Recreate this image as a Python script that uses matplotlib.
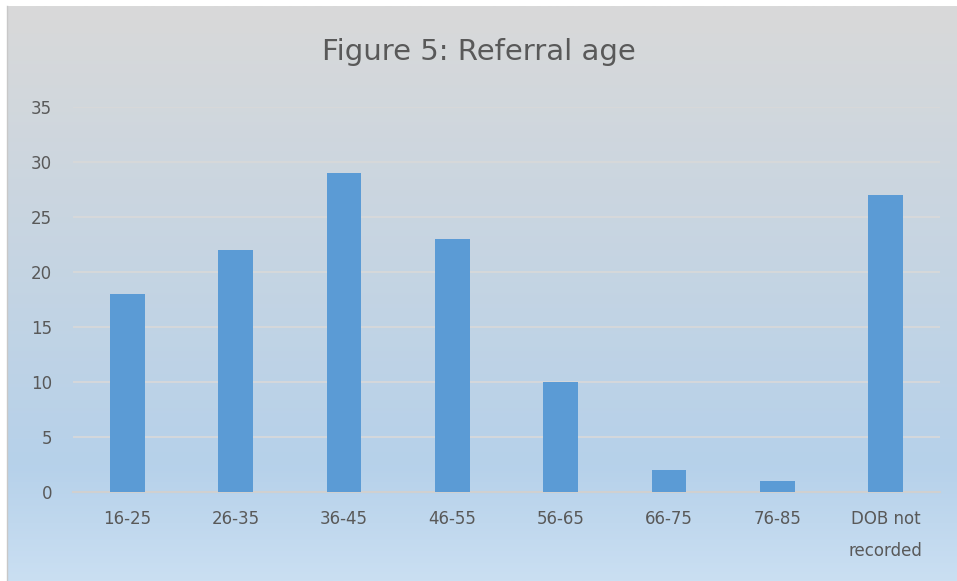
import numpy as np
import matplotlib.pyplot as plt
from matplotlib.colors import LinearSegmentedColormap

# data
categories = ['16-25', '26-35', '36-45', '46-55', '56-65', '66-75', '76-85', 'DOB not\nrecorded']
counts = [18, 22, 29, 23, 10, 2, 1, 27]
yticks = [0, 5, 10, 15, 20, 25, 30, 35]

plt.rcParams['font.family'] = ['DejaVu Sans']

fig = plt.figure(figsize=(9.57, 5.81), dpi=100)
fig.patch.set_facecolor('white')

# gradient background (gray at top to light blue at bottom)
bg = fig.add_axes([7 / 957, 0, 950 / 957, 575 / 581], zorder=0)
cmap = LinearSegmentedColormap.from_list('bg', [(0.0, '#d9d9d9'), (0.8, '#b6d1ea'), (1.0, '#cadff2')])
grad = np.linspace(0, 1, 256).reshape(-1, 1)
bg.imshow(grad, aspect='auto', cmap=cmap, extent=[0, 1, 1, 0])
bg.set_axis_off()
fig.add_artist(plt.Line2D([7 / 957, 7 / 957], [0, 575 / 581], color='#c8c8c8', lw=1))

ax = fig.add_axes([73 / 957, 1 - 492 / 581, 867 / 957, 385 / 581], zorder=1)
ax.patch.set_alpha(0)
x = np.arange(len(categories))
ax.bar(x, counts, width=0.32, color='#5b9bd5', zorder=3)

ax.set_xlim(-0.5, len(categories) - 0.5)
ax.set_ylim(0, 35)
ax.set_yticks(yticks)
ax.set_xticks(x)
ax.set_xticklabels(categories, fontsize=12, color='#595959', linespacing=2.0)
ax.tick_params(axis='y', labelsize=12, labelcolor='#595959', length=0, pad=15)
ax.tick_params(axis='x', length=0, pad=13)
ax.grid(axis='y', color='#d9d9d9', lw=1.2, zorder=0)
for s in ['top', 'right', 'left']:
    ax.spines[s].set_visible(False)
ax.spines['bottom'].set_color('#d0d0d0')
ax.spines['bottom'].set_linewidth(1.5)

fig.text(0.5, 1 - 52 / 581, 'Figure 5: Referral age', ha='center', va='center',
         fontsize=21, color='#595959')

fig.savefig('out.png', dpi=100)
